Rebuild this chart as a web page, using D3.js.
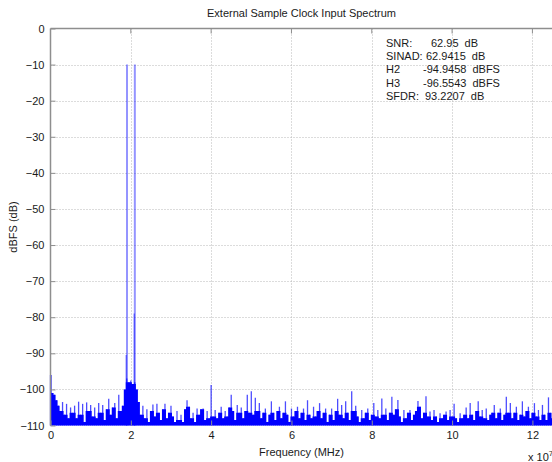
<!DOCTYPE html>
<html>
<head>
<meta charset="utf-8">
<script src="https://cdn.jsdelivr.net/npm/d3@7"></script>
<style>
  html, body { margin: 0; padding: 0; background: #fff; }
  svg { display: block; font-family: "Liberation Sans", Arial, sans-serif; }
  text { fill: #1a1a1a; }
</style>
</head>
<body>
<svg id="chart" width="552" height="462"></svg>
<script>
// Spectrum of the ADC output, clocked from an external sample clock.
const freqStep = 0.05; // bin spacing of the noise-floor trace (x10^7 axis units)

// Noise floor level per bin (dBFS), starting at 0
const noiseLevels = [
  -96, -101, -101.5, -103, -104.5, -106, -103.5, -107, -104, -108,
  -105, -106.5, -104.5, -108, -103.4, -107, -104, -109, -103.6, -106,
  -104.3, -107.5, -105, -108, -103.8, -106.5, -104.3, -108.5, -105.5, -102.6,
  -107, -105, -103.8, -108, -101.5, -106, -104.5, -100, -97, -98,
  -97.5, -98.5, -98, -100, -103.5, -107, -104.5, -108, -105.5, -109,
  -106, -104.2, -107.5, -104, -106.5, -108.5, -105.5, -104, -108, -106.5,
  -104.5, -107.5, -109, -106, -108.5, -107, -109, -105.5, -103, -104.8,
  -108, -106.5, -109, -105.3, -107, -105.5, -105.3, -108.5, -106, -108,
  -98.8, -107.5, -105.7, -108, -106.5, -104.8, -108, -106, -107.5, -105,
  -101.5, -106, -108.5, -104.3, -106.5, -105, -108, -106, -101.5, -106.5,
  -100.5, -107, -102.3, -106, -103.8, -108, -106.5, -105.3, -109, -107,
  -103.3, -106.5, -108.5, -106, -104.8, -108, -106.5, -103.3, -107, -109,
  -105.3, -107.5, -106, -104.8, -108, -106.5, -105.3, -108.5, -103, -107,
  -108, -104.8, -107.5, -106, -103.8, -108, -106.5, -105.3, -109, -107,
  -105.3, -108.5, -106, -102.6, -107, -104.3, -108, -103.3, -106.5, -108.5,
  -100.5, -106, -104.5, -107.5, -109, -105.7, -108, -106.5, -105.3, -108.5,
  -107, -103.8, -107.5, -105.7, -108, -102.5, -107, -105.3, -108.5, -106.5,
  -102, -107, -105.5, -102.9, -107.5, -109, -105.7, -108, -106.5, -105.7,
  -108.5, -107, -106, -103.2, -104.8, -108, -106.5, -101.9, -107.5, -106.1,
  -108.5, -105.7, -107.5, -109, -106.6, -108, -107, -106.1, -108.5, -105.7,
  -107.5, -104, -108, -109, -106.6, -108, -107, -105, -108, -103.8,
  -107, -108.5, -106, -103.3, -107.5, -105.7, -108, -105.3, -108.5, -107,
  -106.5, -104.3, -108, -106.5, -105.3, -108.5, -107, -102, -106.5, -103.8,
  -108, -106.5, -104.8, -108.5, -107, -103.3, -107.5, -106, -104.8, -108,
  -106.5, -103.8, -107.5, -105.7, -108.5, -104.3, -107, -108.5, -102.2, -106.5,
  -108
];

// Two-tone input and the spurs next to it
const toneFreqs = [1.905, 2.1];
const toneLevels = [-10, -10];
const spurFreqs = [1.885, 2.085];
const spurLevels = [-90.5, -79];

// Axis ticks
const xTicks = [0, 2, 4, 6, 8, 10, 12];
const yTicks = [0, -10, -20, -30, -40, -50, -60, -70, -80, -90, -100, -110];

// Measurement readout
const statNames = ["SNR:", "SINAD:", "H2", "H3", "SFDR:"];
const statValues = ["62.95", "62.9415", "-94.9458", "-96.5543", "93.2207"];
const statUnits = ["dB", "dB", "dBFS", "dBFS", "dB"];

const titleText = "External Sample Clock Input Spectrum";
const xLabel = "Frequency (MHz)";
const yLabel = "dBFS (dB)";

// ---- layout ----
const svg = d3.select("#chart");
const plot = { left: 50.5, right: 552.5, top: 28.5, bottom: 425.5 };
const x = d3.scaleLinear().domain([0, 12.5]).range([plot.left, plot.right]);
const y = d3.scaleLinear().domain([-110, 0]).range([plot.bottom, plot.top]);
const blue = "#0000ff";
const axisGray = "#8e8e8e";
const gridGray = "#b8b8b8";

// Grid
const grid = svg.append("g");
grid.selectAll("line.gx").data(xTicks.filter(t => t > 0)).join("line")
  .attr("x1", d => Math.round(x(d)) + 0.5).attr("x2", d => Math.round(x(d)) + 0.5)
  .attr("y1", plot.top).attr("y2", plot.bottom)
  .attr("stroke", gridGray).attr("stroke-dasharray", "1,2");
grid.selectAll("line.gy").data(yTicks.filter(t => t < 0 && t > -110)).join("line")
  .attr("y1", d => Math.round(y(d)) + 0.5).attr("y2", d => Math.round(y(d)) + 0.5)
  .attr("x1", plot.left).attr("x2", plot.right)
  .attr("stroke", gridGray).attr("stroke-dasharray", "1,2");

// Noise floor: solid base up to the lower of each pair of neighbouring bins,
// then a thin stem per bin reaching its own level.
const noiseData = noiseLevels.map((v, i) => ({ f: i * freqStep, v }));
const baseData = noiseData.map((d, i) => {
  const next = noiseData[Math.min(i + 1, noiseData.length - 1)];
  const prev = noiseData[Math.max(i - 1, 0)];
  return { f: d.f, v: Math.min(d.v, Math.max(prev.v, next.v)) };
});
const area = d3.area()
  .x(d => x(d.f))
  .y0(y(-110))
  .y1(d => y(d.v))
  .curve(d3.curveStep);
svg.append("path").datum(baseData)
  .attr("d", area)
  .attr("fill", blue);

svg.append("g").selectAll("line").data(noiseData).join("line")
  .attr("x1", d => x(d.f)).attr("x2", d => x(d.f))
  .attr("y1", y(-110)).attr("y2", d => y(d.v))
  .attr("stroke", blue).attr("stroke-opacity", 0.7).attr("stroke-width", 1.3);

// Spurs
svg.selectAll("line.spur").data(spurFreqs.map((f, i) => ({ f, v: spurLevels[i] }))).join("line")
  .attr("x1", d => x(d.f)).attr("x2", d => x(d.f))
  .attr("y1", y(-110)).attr("y2", d => y(d.v))
  .attr("stroke", blue).attr("stroke-opacity", 0.55).attr("stroke-width", 1.2);

// Tones
svg.selectAll("line.tone").data(toneFreqs.map((f, i) => ({ f, v: toneLevels[i] }))).join("line")
  .attr("x1", d => x(d.f)).attr("x2", d => x(d.f))
  .attr("y1", y(-110)).attr("y2", d => y(d.v))
  .attr("stroke", blue).attr("stroke-opacity", 0.42).attr("stroke-width", 2);

// Axes box (left and top edges visible)
svg.append("line").attr("x1", plot.left).attr("x2", plot.left)
  .attr("y1", plot.top).attr("y2", plot.bottom)
  .attr("stroke", axisGray).attr("stroke-width", 1.5);
svg.append("line").attr("x1", plot.left).attr("x2", plot.right)
  .attr("y1", plot.top).attr("y2", plot.top)
  .attr("stroke", axisGray).attr("stroke-width", 1.5);

// Left axis
const yAxis = d3.axisLeft(y).tickValues(yTicks).tickSizeInner(-5).tickSizeOuter(0).tickPadding(6)
  .tickFormat(d3.format("d"));
const gy = svg.append("g").attr("transform", `translate(${plot.left},0)`).call(yAxis);
gy.select(".domain").remove();
gy.selectAll(".tick line").attr("stroke", axisGray);
gy.selectAll(".tick text").attr("font-size", 11).attr("fill", "#1a1a1a")
  .attr("font-family", "Liberation Sans, Arial, sans-serif");

// Bottom axis
const xAxis = d3.axisBottom(x).tickValues(xTicks).tickSizeInner(-5).tickSizeOuter(0).tickPadding(6)
  .tickFormat(d3.format("d"));
const gx = svg.append("g").attr("transform", `translate(0,${plot.bottom})`).call(xAxis);
gx.select(".domain").remove();
gx.selectAll(".tick line").attr("stroke", axisGray);
gx.selectAll(".tick text").attr("font-size", 11).attr("fill", "#1a1a1a")
  .attr("font-family", "Liberation Sans, Arial, sans-serif");

// Top tick marks
svg.selectAll("line.ttick").data(xTicks.filter(t => t > 0)).join("line")
  .attr("x1", d => x(d)).attr("x2", d => x(d))
  .attr("y1", plot.top).attr("y2", plot.top + 5)
  .attr("stroke", axisGray);

// Titles
svg.append("text").attr("x", (plot.left + plot.right) / 2).attr("y", 17)
  .attr("text-anchor", "middle").attr("font-size", 11).text(titleText);
svg.append("text").attr("x", (plot.left + plot.right) / 2).attr("y", 456)
  .attr("text-anchor", "middle").attr("font-size", 11).text(xLabel);
svg.append("text")
  .attr("transform", `translate(17,${(plot.top + plot.bottom) / 2}) rotate(-90)`)
  .attr("text-anchor", "middle").attr("font-size", 11).text(yLabel);

// Exponent of the frequency axis
const expo = svg.append("text").attr("x", 528).attr("y", 461).attr("font-size", 11);
expo.append("tspan").text("x 10");
expo.append("tspan").attr("dy", -5).attr("font-size", 8).text("7");

// Readout block
const valueX = [431, 426, 423, 423, 425];
const readout = svg.append("g").attr("font-size", 11);
statNames.forEach((name, i) => {
  const t = readout.append("text").attr("y", 47 + i * 13.2).attr("xml:space", "preserve");
  t.append("tspan").attr("x", 386).text(name);
  t.append("tspan").attr("x", valueX[i]).text(statValues[i]);
  t.append("tspan").attr("dx", 6).text(statUnits[i]);
});
</script>
</body>
</html>
